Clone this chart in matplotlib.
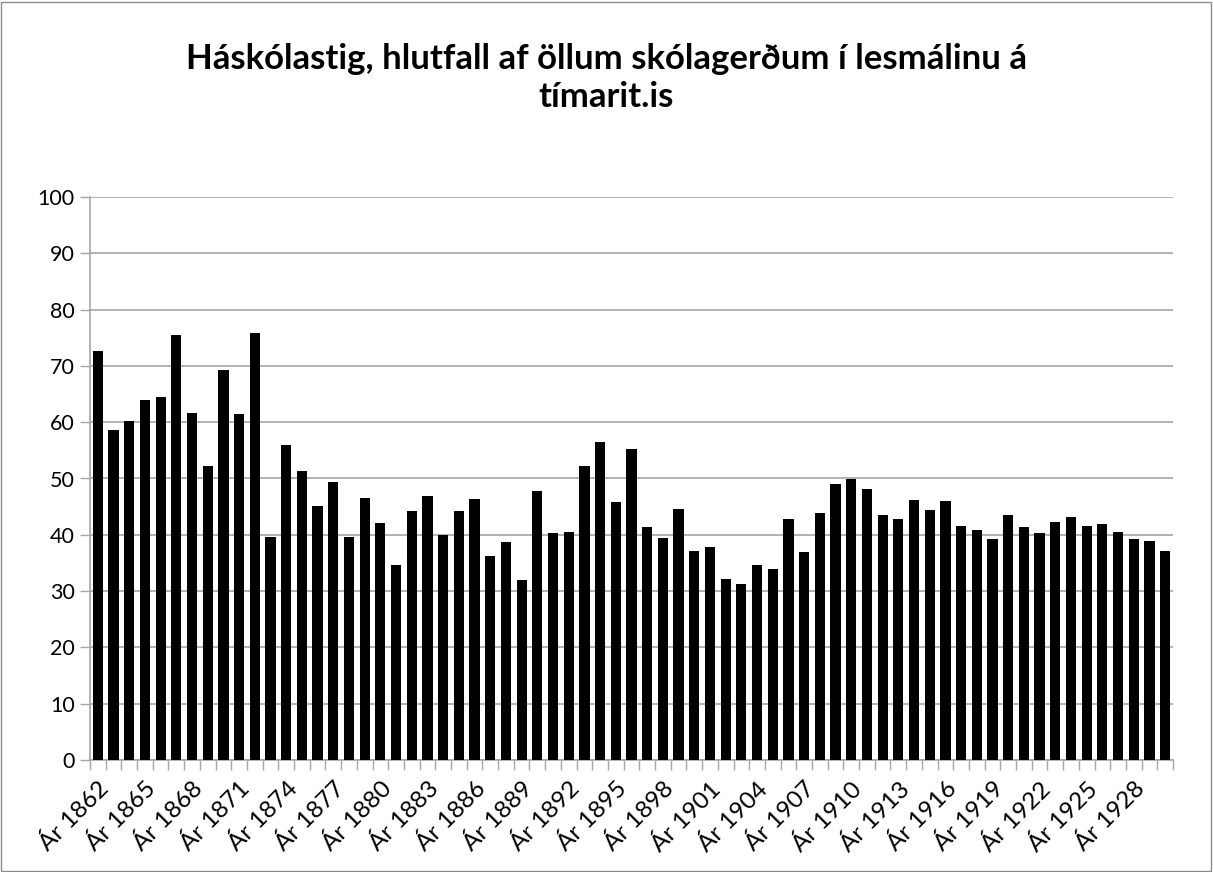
import matplotlib.pyplot as plt
from matplotlib.patches import Rectangle

# years and values
years = list(range(1862, 1931))
values = [72.7, 58.7, 60.3, 63.9, 64.4, 75.5, 61.6, 52.3, 69.2, 61.5,
          75.9, 39.6, 55.9, 51.4, 45.1, 49.3, 39.6, 46.5, 42.1, 34.7,
          44.2, 46.9, 40.0, 44.2, 46.4, 36.3, 38.7, 32.0, 47.8, 40.4,
          40.5, 52.3, 56.4, 45.8, 55.3, 41.3, 39.4, 44.6, 37.2, 37.9,
          32.1, 31.3, 34.7, 34.0, 42.8, 37.0, 43.9, 49.0, 49.9, 48.1,
          43.6, 42.8, 46.1, 44.4, 46.0, 41.6, 40.9, 39.3, 43.5, 41.3,
          40.3, 42.3, 43.2, 41.6, 42.0, 40.5, 39.3, 38.9, 37.2]
labels = ["Ár %d" % y for y in years]
title = "Háskólastig, hlutfall af öllum skólagerðum í lesmálinu á\ntímarit.is"

plt.rcParams['font.family'] = ['Lato', 'DejaVu Sans']

fig = plt.figure(figsize=(12.13, 8.72), dpi=100)
ax = fig.add_axes([90/1213, 1 - 760/872, (1173-90)/1213, (760-197)/872])

x = list(range(len(years)))
ax.bar(x, values, width=0.65, color='black', zorder=3)

ax.set_xlim(-0.5, len(years) - 0.5)
ax.set_ylim(0, 100)
ax.set_yticks(range(0, 101, 10))
ax.yaxis.grid(True, color='#a6a6a6', linewidth=1.2, zorder=0)

# labels every 3rd year, tick marks on category boundaries
ax.set_xticks(x[::3])
ax.set_xticklabels(labels[::3], rotation=45, ha='right', rotation_mode='anchor')
ax.set_xticks([i - 0.5 for i in range(len(years) + 1)], minor=True)
ax.tick_params(axis='x', which='major', length=0, labelsize=17.5, pad=13)
ax.tick_params(axis='x', which='minor', length=7, color='#a6a6a6', width=1)
ax.tick_params(axis='y', length=7, color='#a6a6a6', width=1, labelsize=15.5, pad=4)

for side in ['top', 'right']:
    ax.spines[side].set_visible(False)
for side in ['left', 'bottom']:
    ax.spines[side].set_color('#a6a6a6')
    ax.spines[side].set_linewidth(1.2)

fig.text(0.5, 1 - 78/872, title, ha='center', va='center', fontsize=25,
         fontweight='bold', linespacing=1.2)

# chart area border
fig.patches.append(Rectangle((0.001, 0.001), 0.997, 0.997, transform=fig.transFigure,
                             fill=False, edgecolor='#8c8c8c', linewidth=1))

fig.savefig('out.png', dpi=100)
